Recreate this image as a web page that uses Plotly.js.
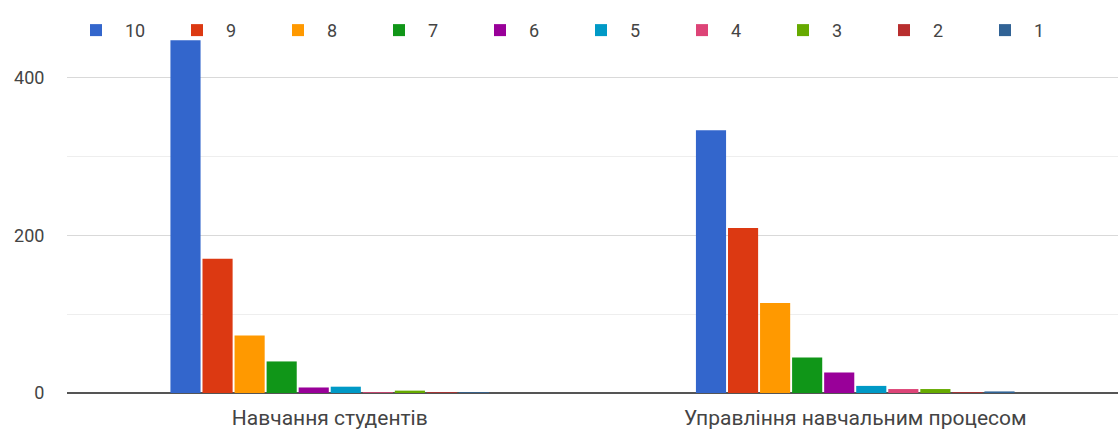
<!DOCTYPE html>
<html>
<head>
<meta charset="utf-8">
<script src="https://cdn.plot.ly/plotly-3.0.1.min.js"></script>
<style>html,body{margin:0;padding:0;background:#fff;}#chart{width:1120px;height:434px;}</style>
</head>
<body>
<div id="chart"></div>
<script>
const categories = ["Навчання студентів", "Управління навчальним процесом"];
const seriesNames = ["10", "9", "8", "7", "6", "5", "4", "3", "2", "1"];
const s10 = [447, 333];
const s9 = [170, 209];
const s8 = [73, 114];
const s7 = [40, 45];
const s6 = [7, 26];
const s5 = [8, 9];
const s4 = [1, 5];
const s3 = [3, 5];
const s2 = [1, 1];
const s1 = [1, 2];
const seriesValues = [s10, s9, s8, s7, s6, s5, s4, s3, s2, s1];
const colors = ["#3366cc", "#dc3912", "#ff9900", "#109618", "#990099", "#0099c6", "#dd4477", "#66aa00", "#b82e2e", "#316395"];

const traces = seriesNames.map((n, i) => ({
  type: "bar",
  name: n,
  x: categories,
  y: seriesValues[i],
  marker: {color: colors[i]},
  hoverinfo: "none"
}));

const layout = {
  width: 1120,
  height: 434,
  margin: {l: 67, r: 2, t: 34, b: 41},
  paper_bgcolor: "#fff",
  plot_bgcolor: "#fff",
  font: {family: "Roboto, Arial, sans-serif", size: 18, color: "#444"},
  barmode: "group",
  bargap: 0.39,
  bargroupgap: 0.06,
  showlegend: true,
  legend: {
    orientation: "h",
    x: 0.0,
    xanchor: "left",
    y: 1.01,
    yanchor: "middle",
    bgcolor: "rgba(0,0,0,0)",
    itemwidth: 48,
    entrywidth: 38,
    entrywidthmode: "pixels",
    font: {size: 18, color: "#444"},
    traceorder: "normal"
  },
  xaxis: {
    type: "category",
    showgrid: false,
    showline: false,
    ticks: "outside",
    ticklen: 6,
    tickcolor: "rgba(0,0,0,0)",
    tickfont: {size: 21, color: "#444"}
  },
  yaxis: {
    range: [0, 455],
    tickvals: [0, 200, 400],
    showgrid: true,
    gridcolor: "#d9d9d9",
    gridwidth: 1,
    minor: {tickvals: [100, 300], showgrid: true, gridcolor: "#eeeeee", gridwidth: 1},
    zeroline: true,
    zerolinecolor: "#555",
    zerolinewidth: 2,
    ticks: "outside",
    ticklen: 18,
    tickcolor: "rgba(0,0,0,0)",
    tickfont: {size: 18, color: "#444"},
    fixedrange: true
  }
};

Plotly.newPlot("chart", traces, layout, {displayModeBar: false, staticPlot: true});
</script>
</body>
</html>
